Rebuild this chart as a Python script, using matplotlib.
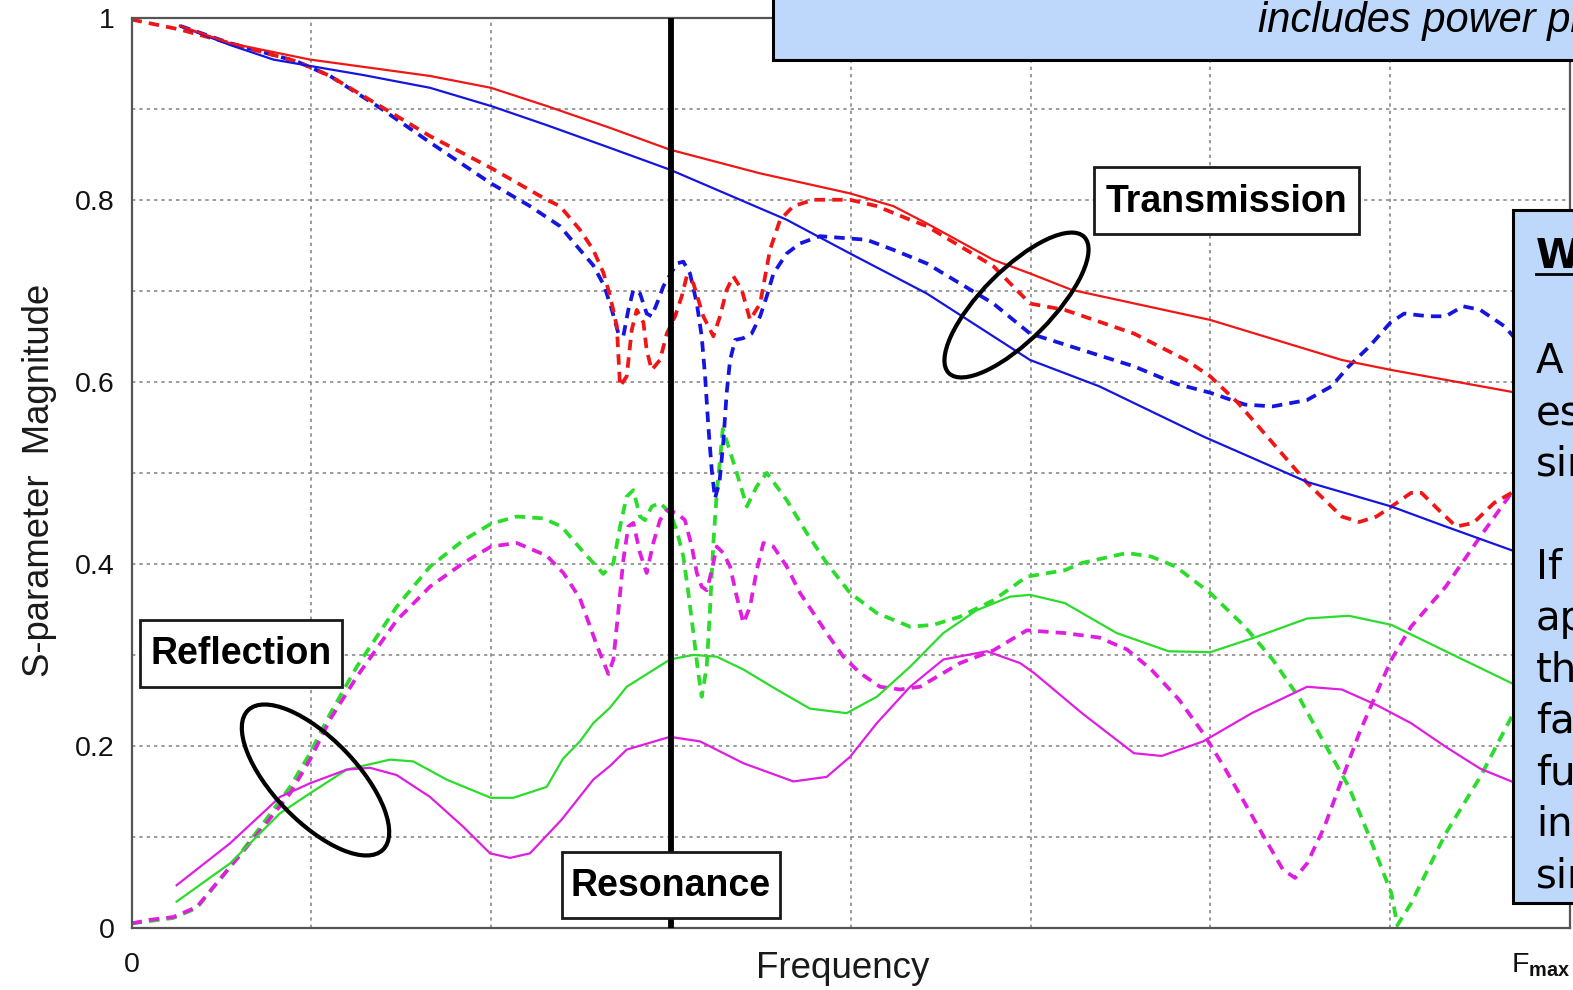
import matplotlib
matplotlib.use("Agg")
import matplotlib.pyplot as plt
from matplotlib.patches import Rectangle, Ellipse

plt.rcParams["mathtext.fontset"] = "custom"
plt.rcParams["mathtext.rm"] = "Liberation Sans"
plt.rcParams["mathtext.bf"] = "Liberation Sans:bold"

# ---------------------------------------------------------------- data
# frequency axis runs from 0 to Fmax in 8 grid divisions
s21_a_x = [0.27, 0.548, 0.993, 1.475, 1.660, 1.999, 2.309, 2.661, 2.995, 3.496, 3.996,
           4.237, 4.423, 4.793, 4.997, 5.229, 5.999, 6.731, 7.007, 7.675]
s21_a_y = [0.991, 0.972, 0.954, 0.941, 0.936, 0.923, 0.903, 0.879, 0.855, 0.829, 0.807,
           0.793, 0.774, 0.734, 0.719, 0.701, 0.668, 0.624, 0.613, 0.589]

s21_b_x = [0.27, 0.548, 0.789, 0.993, 1.289, 1.660, 1.999, 2.309, 2.661, 2.995, 3.644,
           3.996, 4.423, 4.997, 5.383, 5.960, 6.538, 7.007, 7.309, 7.675]
s21_b_y = [0.991, 0.970, 0.954, 0.947, 0.937, 0.923, 0.903, 0.882, 0.857, 0.833, 0.778,
           0.741, 0.697, 0.624, 0.595, 0.540, 0.490, 0.463, 0.441, 0.415]

s21_a_res_x = [0, 0.27, 0.548, 0.919, 1.104, 1.382, 1.66, 1.999, 2.309, 2.383, 2.494, 2.568,
               2.624, 2.661, 2.699, 2.717, 2.754, 2.782, 2.810, 2.847, 2.865, 2.893, 2.939,
               2.977, 3.023, 3.060, 3.088, 3.125, 3.180, 3.236, 3.273, 3.310, 3.347, 3.394,
               3.440, 3.496, 3.551, 3.607, 3.681, 3.792, 3.996, 4.145, 4.330, 4.423, 4.793,
               4.997, 5.190, 5.575, 5.864, 5.999, 6.153, 6.346, 6.538, 6.731, 6.828, 6.924,
               7.007, 7.116, 7.174, 7.271, 7.367, 7.463, 7.578, 7.675]
s21_a_res_y = [0.998, 0.987, 0.972, 0.952, 0.936, 0.903, 0.870, 0.835, 0.800, 0.793, 0.767,
               0.745, 0.720, 0.695, 0.661, 0.595, 0.606, 0.657, 0.679, 0.665, 0.635, 0.613,
               0.624, 0.653, 0.672, 0.694, 0.716, 0.708, 0.672, 0.650, 0.672, 0.701, 0.716,
               0.701, 0.668, 0.686, 0.745, 0.778, 0.793, 0.800, 0.800, 0.793, 0.778, 0.771,
               0.727, 0.686, 0.679, 0.653, 0.624, 0.606, 0.577, 0.533, 0.489, 0.452, 0.446,
               0.452, 0.463, 0.478, 0.478, 0.459, 0.441, 0.445, 0.467, 0.478]

s21_b_res_x = [0.27, 0.548, 0.919, 1.104, 1.382, 1.66, 1.999, 2.216, 2.383, 2.494, 2.568,
               2.630, 2.670, 2.708, 2.735, 2.763, 2.791, 2.828, 2.865, 2.893, 2.930, 2.958,
               3.032, 3.069, 3.106, 3.144, 3.171, 3.190, 3.208, 3.227, 3.245, 3.270, 3.291,
               3.310, 3.329, 3.357, 3.403, 3.449, 3.496, 3.533, 3.570, 3.644, 3.718, 3.829,
               3.959, 4.089, 4.237, 4.423, 4.608, 4.793, 4.997, 5.190, 5.575, 5.807, 5.999,
               6.192, 6.346, 6.538, 6.673, 6.770, 6.885, 7.001, 7.078, 7.212, 7.309, 7.405,
               7.501, 7.636, 7.684]
s21_b_res_y = [0.991, 0.972, 0.952, 0.936, 0.901, 0.863, 0.818, 0.793, 0.771, 0.745, 0.728,
               0.705, 0.680, 0.653, 0.650, 0.679, 0.701, 0.697, 0.675, 0.672, 0.690, 0.705,
               0.730, 0.732, 0.719, 0.686, 0.650, 0.606, 0.551, 0.503, 0.472, 0.490, 0.533,
               0.588, 0.624, 0.646, 0.648, 0.653, 0.672, 0.694, 0.719, 0.741, 0.752, 0.760,
               0.758, 0.756, 0.745, 0.730, 0.708, 0.686, 0.653, 0.641, 0.617, 0.598, 0.588,
               0.575, 0.573, 0.580, 0.595, 0.617, 0.639, 0.665, 0.675, 0.672, 0.672, 0.683,
               0.679, 0.661, 0.650]

s11_a_x = [0.251, 0.548, 0.826, 0.993, 1.197, 1.438, 1.567, 1.753, 1.999, 2.123, 2.309,
           2.40, 2.494, 2.568, 2.661, 2.754, 2.995, 3.125, 3.255, 3.403, 3.588, 3.773,
           3.977, 4.145, 4.330, 4.515, 4.700, 4.886, 4.997, 5.190, 5.479, 5.768, 5.999,
           6.230, 6.538, 6.770, 7.007, 7.309, 7.675]
s11_a_y = [0.029, 0.071, 0.126, 0.148, 0.174, 0.185, 0.183, 0.163, 0.143, 0.143, 0.155,
           0.186, 0.205, 0.225, 0.242, 0.265, 0.295, 0.300, 0.298, 0.284, 0.262, 0.241,
           0.236, 0.254, 0.287, 0.324, 0.349, 0.364, 0.366, 0.357, 0.324, 0.304, 0.303,
           0.318, 0.340, 0.343, 0.333, 0.304, 0.269]

s11_b_x = [0.251, 0.548, 0.826, 0.993, 1.197, 1.326, 1.475, 1.660, 1.846, 1.994, 2.105,
           2.216, 2.392, 2.568, 2.661, 2.754, 2.995, 3.162, 3.403, 3.681, 3.866, 3.996,
           4.145, 4.330, 4.515, 4.757, 4.942, 5.020, 5.286, 5.575, 5.729, 5.960, 6.230,
           6.538, 6.731, 6.924, 7.116, 7.309, 7.501, 7.675]
s11_b_y = [0.047, 0.093, 0.144, 0.159, 0.174, 0.176, 0.168, 0.144, 0.111, 0.082, 0.077,
           0.082, 0.119, 0.163, 0.178, 0.196, 0.210, 0.205, 0.181, 0.161, 0.166, 0.188,
           0.225, 0.265, 0.295, 0.304, 0.291, 0.280, 0.236, 0.192, 0.189, 0.205, 0.236,
           0.265, 0.262, 0.245, 0.225, 0.199, 0.175, 0.161]

s11_a_res_x = [0, 0.232, 0.363, 0.548, 0.733, 0.882, 0.993, 1.104, 1.253, 1.475, 1.660,
               1.846, 1.999, 2.142, 2.290, 2.392, 2.513, 2.624, 2.680, 2.717, 2.754, 2.791,
               2.828, 2.856, 2.893, 2.939, 2.995, 3.032, 3.069, 3.097, 3.125, 3.152, 3.171,
               3.199, 3.217, 3.236, 3.255, 3.273, 3.288, 3.310, 3.366, 3.422, 3.477, 3.533,
               3.644, 3.755, 3.866, 3.996, 4.145, 4.330, 4.459, 4.608, 4.793, 4.979, 5.190,
               5.286, 5.536, 5.671, 5.807, 5.999, 6.192, 6.346, 6.500, 6.634, 6.770, 6.885,
               7.007, 7.040, 7.116, 7.309, 7.501, 7.675]
s11_a_res_y = [0.005, 0.011, 0.022, 0.067, 0.115, 0.155, 0.192, 0.235, 0.287, 0.353, 0.397,
               0.426, 0.444, 0.452, 0.450, 0.441, 0.413, 0.389, 0.401, 0.441, 0.474, 0.481,
               0.452, 0.448, 0.463, 0.467, 0.456, 0.437, 0.408, 0.368, 0.324, 0.280, 0.254,
               0.287, 0.349, 0.423, 0.478, 0.514, 0.548, 0.535, 0.500, 0.463, 0.485, 0.500,
               0.470, 0.434, 0.401, 0.368, 0.346, 0.331, 0.333, 0.342, 0.360, 0.386, 0.393,
               0.401, 0.412, 0.408, 0.397, 0.368, 0.331, 0.295, 0.251, 0.203, 0.155, 0.100,
               0.038, 0.003, 0.027, 0.104, 0.166, 0.232]

s11_b_res_x = [0, 0.103, 0.232, 0.363, 0.548, 0.733, 0.882, 0.993, 1.104, 1.253, 1.475,
               1.660, 1.846, 1.999, 2.142, 2.309, 2.402, 2.494, 2.587, 2.652, 2.680, 2.708,
               2.735, 2.763, 2.791, 2.828, 2.865, 2.902, 2.939, 2.977, 3.032, 3.078, 3.116,
               3.144, 3.171, 3.199, 3.227, 3.255, 3.291, 3.329, 3.366, 3.403, 3.440, 3.477,
               3.514, 3.570, 3.644, 3.718, 3.792, 3.866, 3.959, 4.052, 4.163, 4.274, 4.385,
               4.608, 4.793, 4.979, 5.190, 5.383, 5.536, 5.671, 5.825, 5.960, 6.076, 6.192,
               6.307, 6.404, 6.471, 6.538, 6.634, 6.731, 6.828, 6.924, 7.007, 7.116, 7.309,
               7.501, 7.675]
s11_b_res_y = [0.005, 0.009, 0.012, 0.023, 0.067, 0.111, 0.148, 0.185, 0.229, 0.276, 0.338,
               0.375, 0.401, 0.419, 0.423, 0.409, 0.390, 0.362, 0.311, 0.279, 0.295, 0.349,
               0.404, 0.441, 0.445, 0.412, 0.390, 0.423, 0.448, 0.459, 0.456, 0.448, 0.419,
               0.390, 0.375, 0.371, 0.393, 0.419, 0.412, 0.397, 0.364, 0.335, 0.353, 0.393,
               0.423, 0.419, 0.397, 0.368, 0.346, 0.324, 0.298, 0.280, 0.265, 0.262, 0.265,
               0.291, 0.305, 0.327, 0.324, 0.319, 0.306, 0.284, 0.251, 0.214, 0.177, 0.137,
               0.097, 0.064, 0.055, 0.071, 0.111, 0.163, 0.214, 0.258, 0.295, 0.331, 0.375,
               0.430, 0.478]

resonance_x = 3.0
x_divisions = list(range(9))
x_tick_labels = ["0", "", "", "", "", "", "", "", r"F$_{\mathbf{max}}$"]
y_ticks = [i / 10 for i in range(11)]
y_tick_labels = ["0", "", "0.2", "", "0.4", "", "0.6", "", "0.8", "", "1"]

note_heading = "Why?"
note_lines = ["A quick", "estimate", "simulation", "", "If", "applied,", "the", "fast",
              "full", "including", "simulation"]
banner_text = "includes power plane"

# ---------------------------------------------------------------- figure
W, H = 1573, 990
fig = plt.figure(figsize=(W / 100, H / 100), dpi=100)
ax = fig.add_axes([131.5 / W, 1 - 928 / H, (1570 - 131.5) / W, (928 - 17.7) / H])

RED, BLUE, GREEN, MAG = "#f01616", "#1515e0", "#2bdc2b", "#e01ee0"
solid = dict(lw=1.6, solid_joinstyle="round")
dashed = dict(lw=2.7, dashes=(2.8, 1.9), dash_capstyle="butt")

ax.plot(s11_a_res_x, s11_a_res_y, color=GREEN, **dashed)
ax.plot(s11_b_res_x, s11_b_res_y, color=MAG, **dashed)
ax.plot(s11_a_x, s11_a_y, color=GREEN, **solid)
ax.plot(s11_b_x, s11_b_y, color=MAG, **solid)
ax.plot(s21_b_res_x, s21_b_res_y, color=BLUE, **dashed)
ax.plot(s21_a_res_x, s21_a_res_y, color=RED, **dashed)
ax.plot(s21_b_x, s21_b_y, color=BLUE, **solid)
ax.plot(s21_a_x, s21_a_y, color=RED, **solid)
ax.axvline(resonance_x, color="black", lw=4.2, zorder=5)

sans = ["Liberation Sans", "DejaVu Sans"]
ax.set_xlim(0, 8)
ax.set_ylim(0, 1)
ax.set_xticks(x_divisions)
ax.set_xticklabels(x_tick_labels, family=sans)
ax.set_yticks(y_ticks)
ax.set_yticklabels(y_tick_labels, family=sans)
ax.get_xticklabels()[-1].set_ha("right")
ax.tick_params(axis="both", length=0, labelsize=20.5, colors="#111111")
ax.tick_params(axis="x", pad=17)
ax.tick_params(axis="y", pad=12)
ax.grid(True, color="#808080", lw=1.1, linestyle=(0, (2.2, 2.6)))
ax.set_axisbelow(True)
for sp in ax.spines.values():
    sp.set_color("#555555")
    sp.set_linewidth(1.6)

fig.text(843 / W, 1 - 969 / H, "Frequency", ha="center", va="center",
         fontsize=26.5, family=sans, color="#1a1a1a")
fig.text(40 / W, 1 - 480 / H, "S-parameter  Magnitude", ha="center", va="center",
         rotation=90, fontsize=26.3, family=sans, color="#1a1a1a")

# ---------------------------------------------------------------- annotations (pixel space)
ov = fig.add_axes([0, 0, 1, 1])
ov.set_xlim(0, W)
ov.set_ylim(H, 0)
ov.axis("off")
ov.patch.set_visible(False)

label_font = dict(family=sans, fontweight="bold",
                  fontsize=27, color="black", ha="center", va="center")
for (x0, y0, x1, y1, txt) in [(1094, 167, 1359, 234, "Transmission"),
                              (140, 620, 342, 687, "Reflection"),
                              (562, 852, 780, 918, "Resonance")]:
    ov.add_patch(Rectangle((x0, y0), x1 - x0, y1 - y0, facecolor="white",
                           edgecolor="#1a1a1a", lw=2.0))
    ov.text((x0 + x1) / 2, (y0 + y1) / 2 + 1, txt, **label_font)

ov.add_patch(Ellipse((1016.5, 305), 192, 70, angle=-45.2, fill=False,
                     edgecolor="black", lw=3.0))
ov.add_patch(Ellipse((315.5, 780), 194, 83, angle=46.0, fill=False,
                     edgecolor="black", lw=3.0))

BOX = "#bed8fb"
ov.add_patch(Rectangle((773, -10), 900, 70, facecolor=BOX, edgecolor="black", lw=2.2))
ov.text(1258, 32, banner_text, ha="left", va="baseline", fontsize=30,
        style="italic", family=sans, color="black")

ov.add_patch(Rectangle((1513, 210), 200, 693, facecolor=BOX, edgecolor="black", lw=2.2))
ov.text(1536, 268, note_heading, ha="left", va="baseline", fontsize=29,
        fontweight="bold", family="DejaVu Sans", color="black")
ov.plot([1536, 1600], [273.5, 273.5], color="black", lw=2.0)
for i, line in enumerate(note_lines):
    ov.text(1536, 373 + i * 51.4, line, ha="left", va="baseline", fontsize=29,
            family="DejaVu Sans", color="black")

fig.savefig("out.png", dpi=100)
